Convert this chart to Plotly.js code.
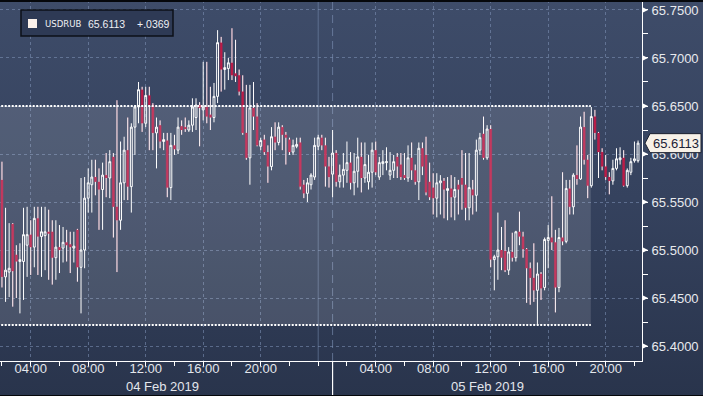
<!DOCTYPE html>
<html><head><meta charset="utf-8">
<script src="https://cdn.plot.ly/plotly-3.0.1.min.js"></script>
<style>
html,body{margin:0;padding:0;background:#000;}
#wrap{position:relative;width:703px;height:396px;overflow:hidden;background:linear-gradient(to bottom,#3e4c69 0%,#35425e 50%,#29344c 100%);}
#chart{position:absolute;left:0;top:0;width:703px;height:396px;}
#topbar{position:absolute;left:0;top:0;width:703px;height:2px;background:#05070b;z-index:5;}
#botbar{position:absolute;left:0;bottom:0;width:703px;height:1px;background:#05070b;z-index:5;}
</style></head><body>
<div id="wrap"><div id="chart"></div><div id="topbar"></div><div id="botbar"></div></div>
<script>
// ---- data (15-minute USDRUB candles) ----
const ticker = 'USDRUB';
const startTime = '2019-02-04T02:00:00Z';
const stepMinutes = 15;
const openP = [65.573,65.472,65.477,65.527,65.495,65.488,65.488,65.505,65.516,65.503,65.533,65.514,65.515,65.519,65.519,65.492,65.503,65.502,65.508,65.506,
65.502,65.521,65.482,65.500,65.554,65.568,65.576,65.571,65.563,65.578,65.575,65.597,65.545,65.531,65.570,65.604,65.566,65.628,65.649,65.667,
65.632,65.661,65.651,65.622,65.630,65.613,65.614,65.565,65.609,65.604,65.629,65.628,65.625,65.630,65.638,65.651,65.646,65.649,65.641,65.638,
65.660,65.716,65.688,65.689,65.695,65.684,65.682,65.665,65.622,65.596,65.648,65.639,65.608,65.615,65.602,65.587,65.618,65.612,65.628,65.620,
65.615,65.602,65.608,65.612,65.568,65.559,65.568,65.576,65.608,65.617,65.609,65.587,65.579,65.601,65.571,65.578,65.583,65.591,65.570,65.582,
65.597,65.575,65.571,65.581,65.604,65.576,65.590,65.591,65.578,65.583,65.597,65.589,65.578,65.575,65.596,65.583,65.571,65.606,65.599,65.571,
65.565,65.554,65.570,65.572,65.562,65.564,65.555,65.568,65.575,65.568,65.544,65.563,65.557,65.604,65.621,65.596,65.626,65.490,65.493,65.500,
65.499,65.479,65.498,65.492,65.519,65.514,65.501,65.481,65.471,65.458,65.475,65.461,65.510,65.513,65.508,65.461,65.513,65.509,65.564,65.545,
65.578,65.574,65.628,65.594,65.567,65.639,65.622,65.602,65.587,65.576,65.572,65.585,65.594,65.596,65.567,65.581,65.593,65.593];
const highP = [65.592,65.544,65.528,65.528,65.505,65.507,65.544,65.545,65.531,65.545,65.545,65.545,65.545,65.542,65.531,65.531,65.526,65.524,65.521,65.519,
65.519,65.522,65.575,65.576,65.585,65.594,65.594,65.585,65.591,65.601,65.604,65.601,65.656,65.613,65.618,65.638,65.632,65.651,65.675,65.670,
65.670,65.670,65.653,65.638,65.635,65.622,65.622,65.622,65.620,65.638,65.635,65.638,65.635,65.658,65.658,65.654,65.696,65.696,65.670,65.674,
65.729,65.722,65.706,65.700,65.731,65.719,65.688,65.682,65.672,65.672,65.675,65.653,65.617,65.620,65.609,65.628,65.633,65.633,65.630,65.623,
65.617,65.615,65.617,65.617,65.573,65.575,65.580,65.617,65.620,65.620,65.617,65.597,65.625,65.604,65.589,65.601,65.613,65.602,65.601,65.617,
65.612,65.612,65.599,65.612,65.613,65.597,65.604,65.607,65.602,65.599,65.601,65.601,65.601,65.609,65.612,65.589,65.612,65.612,65.618,65.591,
65.580,65.580,65.578,65.575,65.576,65.578,65.576,65.573,65.604,65.601,65.601,65.573,65.615,65.622,65.639,65.630,65.630,65.495,65.539,65.524,
65.531,65.503,65.518,65.520,65.540,65.519,65.502,65.487,65.507,65.487,65.477,65.513,65.526,65.556,65.521,65.523,65.581,65.573,65.573,65.580,
65.609,65.639,65.644,65.599,65.649,65.646,65.623,65.606,65.599,65.581,65.594,65.606,65.607,65.604,65.585,65.596,65.613,65.614];
const lowP = [65.461,65.446,65.451,65.441,65.450,65.434,65.448,65.472,65.474,65.482,65.474,65.472,65.479,65.469,65.464,65.469,65.476,65.487,65.488,65.476,
65.487,65.467,65.434,65.481,65.539,65.539,65.557,65.521,65.521,65.555,65.554,65.513,65.477,65.521,65.552,65.552,65.539,65.599,65.632,65.623,
65.628,65.604,65.604,65.585,65.606,65.604,65.555,65.552,65.599,65.600,65.620,65.623,65.623,65.623,65.625,65.608,65.635,65.632,65.625,65.633,
65.653,65.665,65.667,65.677,65.677,65.675,65.661,65.620,65.594,65.568,65.625,65.608,65.604,65.599,65.570,65.583,65.604,65.609,65.604,65.589,
65.599,65.599,65.606,65.563,65.554,65.550,65.563,65.573,65.604,65.604,65.566,65.565,65.555,65.566,65.565,65.565,65.570,65.563,65.557,65.565,
65.560,65.570,65.563,65.565,65.578,65.573,65.578,65.583,65.573,65.575,65.575,65.573,65.573,65.571,65.573,65.568,65.552,65.578,65.557,65.552,
65.537,65.534,65.537,65.533,65.531,65.534,65.531,65.537,65.542,65.531,65.531,65.537,65.540,65.599,65.594,65.594,65.482,65.458,65.469,65.479,
65.477,65.474,65.488,65.488,65.505,65.492,65.445,65.443,65.446,65.422,65.448,65.458,65.481,65.500,65.435,65.456,65.505,65.507,65.537,65.537,
65.568,65.573,65.589,65.554,65.565,65.615,65.575,65.583,65.573,65.558,65.568,65.583,65.589,65.566,65.565,65.578,65.591,65.591];
const closeP = [65.472,65.479,65.481,65.478,65.488,65.490,65.516,65.516,65.503,65.533,65.514,65.519,65.519,65.517,65.492,65.503,65.500,65.508,65.505,65.503,
65.504,65.482,65.500,65.554,65.570,65.576,65.571,65.563,65.578,65.575,65.592,65.545,65.531,65.570,65.604,65.566,65.628,65.649,65.667,65.632,
65.661,65.651,65.622,65.628,65.613,65.615,65.565,65.609,65.605,65.628,65.625,65.626,65.630,65.649,65.651,65.648,65.649,65.639,65.638,65.660,
65.716,65.688,65.690,65.695,65.682,65.681,65.665,65.622,65.596,65.648,65.639,65.609,65.614,65.602,65.587,65.618,65.612,65.628,65.620,65.617,
65.602,65.609,65.610,65.566,65.559,65.570,65.578,65.609,65.617,65.609,65.587,65.576,65.601,65.571,65.578,65.584,65.591,65.570,65.582,65.597,
65.575,65.589,65.581,65.604,65.581,65.591,65.592,65.592,65.583,65.592,65.587,65.576,65.575,65.596,65.583,65.571,65.606,65.587,65.560,65.555,
65.554,65.570,65.572,65.563,65.564,65.555,65.563,65.563,65.568,65.544,65.565,65.557,65.604,65.617,65.596,65.626,65.490,65.493,65.500,65.492,
65.479,65.498,65.492,65.519,65.514,65.501,65.481,65.471,65.458,65.475,65.460,65.511,65.513,65.508,65.461,65.513,65.509,65.564,65.545,65.578,
65.574,65.628,65.594,65.567,65.639,65.622,65.602,65.587,65.576,65.572,65.585,65.595,65.596,65.567,65.583,65.592,65.595,65.6113];
const netChange = 0.0369;
const rangeHigh = 65.65;
const rangeLow = 65.422;
const rangeStart = '2019-02-04 00:00';
const rangeEnd = '2019-02-05 18:58';
const timeTickVals = ['2019-02-04 04:00','2019-02-04 08:00','2019-02-04 12:00','2019-02-04 16:00','2019-02-04 20:00',
                      '2019-02-05 04:00','2019-02-05 08:00','2019-02-05 12:00','2019-02-05 16:00','2019-02-05 20:00'];
const timeTickText = ['04:00','08:00','12:00','16:00','20:00','04:00','08:00','12:00','16:00','20:00'];
const dayLabels = ['04 Feb 2019','05 Feb 2019'];
const dayLabelPos = ['2019-02-04 13:12','2019-02-05 11:47'];
const dayBoundary = '2019-02-05 00:00';
const sessionMarker = '2019-02-05 01:00';
const priceTicks = [65.40,65.45,65.50,65.55,65.60,65.65,65.70,65.75];

// ---- build ----
const t0 = Date.parse(startTime);
const times = openP.map((_, i) => new Date(t0 + i*stepMinutes*60000).toISOString().slice(0,16).replace('T',' '));

const PW = 642, PH = 361;
const pxX = p => p/PW;           // plot-pixel -> paper x
const pxY = p => 1 - p/PH;       // plot-pixel (from top) -> paper y
const yMin = 65.3844, yMax = 65.7604;
const pxToPrice = (yMax - yMin)/PH;

const redC = '#bd1c48';
const candles = {
  type:'candlestick', x: times, open: openP, high: highP, low: lowP, close: closeP,
  increasing:{line:{color:'#ffffff', width:1}, fillcolor:'rgba(0,0,0,0)'},
  decreasing:{line:{color:redC, width:0.6}, fillcolor:redC},
  whiskerwidth:0, hoverinfo:'skip', showlegend:false
};
// white wicks for down candles
const wx = [], wy = [];
times.forEach((t,i) => {
  if (closeP[i] < openP[i]) {
    wx.push(t,t,null,t,t,null);
    wy.push(highP[i], openP[i], null, closeP[i], lowP[i], null);
  }
});
const wicks = {type:'scatter', mode:'lines', x:wx, y:wy, line:{color:'#ffffff', width:1},
  hoverinfo:'skip', showlegend:false, connectgaps:false};

const gridColor = 'rgba(130,150,185,0.55)';
const last = closeP[closeP.length-1];

const shapes = [
  {type:'line', xref:'x', yref:'paper', x0:dayBoundary, x1:dayBoundary, y0:0, y1:1,
   line:{color:'rgba(120,140,175,0.55)', width:1}, layer:'below'},
  {type:'line', xref:'x', yref:'paper', x0:sessionMarker, x1:sessionMarker, y0:0, y1:1,
   line:{color:'rgba(130,150,185,0.6)', width:1, dash:'8px,5px'}, layer:'below'},
  {type:'line', xref:'x', yref:'paper', x0:sessionMarker, x1:sessionMarker, y0:-35/PH, y1:0,
   line:{color:'#ffffff', width:1.2}},
  {type:'rect', xref:'x', yref:'y', x0:rangeStart, x1:rangeEnd, y0:rangeLow, y1:rangeHigh,
   fillcolor:'rgba(255,255,255,0.13)', line:{width:0}, layer:'above'},
  {type:'line', xref:'x', yref:'y', x0:rangeStart, x1:rangeEnd, y0:rangeHigh, y1:rangeHigh,
   line:{color:'#ffffff', width:2, dash:'2px,1.5px'}, layer:'above'},
  {type:'line', xref:'x', yref:'y', x0:rangeStart, x1:rangeEnd, y0:rangeLow, y1:rangeLow,
   line:{color:'#ffffff', width:2, dash:'2px,1.5px'}, layer:'above'},
  // legend box
  {type:'rect', xref:'paper', yref:'paper', x0:pxX(21), x1:pxX(173), y0:pxY(36), y1:pxY(10),
   fillcolor:'#2e3a55', line:{color:'#0c1018', width:1.5}, layer:'above'},
  {type:'rect', xref:'paper', yref:'paper', x0:pxX(28), x1:pxX(37), y0:pxY(28), y1:pxY(19),
   fillcolor:'#fbf1ea', line:{width:0}, layer:'above'}
];
// triangle tick marks on the price axis
const dy = 3*pxToPrice;
priceTicks.forEach(v => {
  shapes.push({type:'path', xref:'paper', yref:'y',
    path:`M 1,${v+dy} L ${1+6/PW},${v} L 1,${v-dy} Z`,
    fillcolor:'#ffffff', line:{width:0}, layer:'above'});
});
// last price tag
const th = 9.5*pxToPrice;
shapes.push({type:'path', xref:'paper', yref:'y',
  path:`M ${1+3/PW},${last} L ${1+8/PW},${last+th} L ${1+59/PW},${last+th} L ${1+59/PW},${last-th} L ${1+8/PW},${last-th} Z`,
  fillcolor:'#f7f1e8', line:{color:'#1a2030', width:1}, layer:'above'});

const numFont = {family:'Liberation Sans, Arial, sans-serif', size:10.5, color:'#eef0f4'};
const tickerFont = {family:'DejaVu Sans Condensed, Liberation Sans Narrow, sans-serif', size:9.5, color:'#eef0f4'};
const annotations = [
  {xref:'paper', yref:'paper', x:pxX(43), y:pxY(23.5), xanchor:'left', yanchor:'middle', text:ticker, showarrow:false, font:tickerFont},
  {xref:'paper', yref:'paper', x:pxX(86), y:pxY(23.5), xanchor:'left', yanchor:'middle', text:last.toFixed(4), showarrow:false, font:numFont},
  {xref:'paper', yref:'paper', x:pxX(135), y:pxY(23.5), xanchor:'left', yanchor:'middle',
   text:(netChange>=0?'+':'-') + Math.abs(netChange).toFixed(4).replace(/^0/,''), showarrow:false, font:numFont},
  {xref:'paper', yref:'y', x:pxX(675.5), y:last, xanchor:'center', yanchor:'middle', text:last.toFixed(4), showarrow:false,
   font:{family:'Liberation Sans, Arial, sans-serif', size:13, color:'#1b2236'}}
];
dayLabels.forEach((d,i) => annotations.push({xref:'x', yref:'paper', x:dayLabelPos[i], y:-25/PH,
  xanchor:'center', yanchor:'middle', text:d, showarrow:false,
  font:{family:'Liberation Sans, Arial, sans-serif', size:13, color:'#e3e6ec'}}));

const layout = {
  width:703, height:396,
  margin:{l:0, r:61, t:0, b:35, pad:0},
  paper_bgcolor:'rgba(0,0,0,0)', plot_bgcolor:'rgba(0,0,0,0)',
  font:{family:'Liberation Sans, Arial, sans-serif', size:13, color:'#e3e6ec'},
  showlegend:false, boxgap:0.25,
  xaxis:{
    type:'date', range:['2019-02-04 01:51:50','2019-02-05 22:31:30'],
    tickmode:'array', tickvals:timeTickVals, ticktext:timeTickText,
    ticks:'outside', ticklen:4, tickwidth:1, tickcolor:'#ffffff',
    ticklabelstandoff:-9,
    showgrid:true, gridcolor:gridColor, griddash:'3px,3px', gridwidth:1,
    showline:true, linecolor:'#ffffff', linewidth:1, zeroline:false,
    tickfont:{size:13, color:'#e3e6ec'},
    minor:{ticks:'outside', ticklen:4, tickwidth:1, tickcolor:'#ffffff', dtick:2*3600*1000, tick0:'2019-02-04 00:00', showgrid:false},
    rangeslider:{visible:false}, fixedrange:true
  },
  yaxis:{
    side:'right', range:[yMin, yMax], tickmode:'array', tickvals:priceTicks, tickformat:'.4f',
    ticks:'outside', ticklen:6, tickcolor:'rgba(0,0,0,0)',
    showgrid:true, gridcolor:gridColor, griddash:'3px,3px', gridwidth:1,
    showline:true, linecolor:'#ffffff', linewidth:1, zeroline:false,
    tickfont:{size:13, color:'#e8eaee'},
    minor:{ticks:'outside', ticklen:5, tickwidth:1, tickcolor:'#ffffff', dtick:0.025, tick0:65.4, showgrid:false},
    fixedrange:true
  },
  shapes, annotations
};
Plotly.newPlot('chart', [candles, wicks], layout, {staticPlot:true, displayModeBar:false});
</script>
</body></html>
